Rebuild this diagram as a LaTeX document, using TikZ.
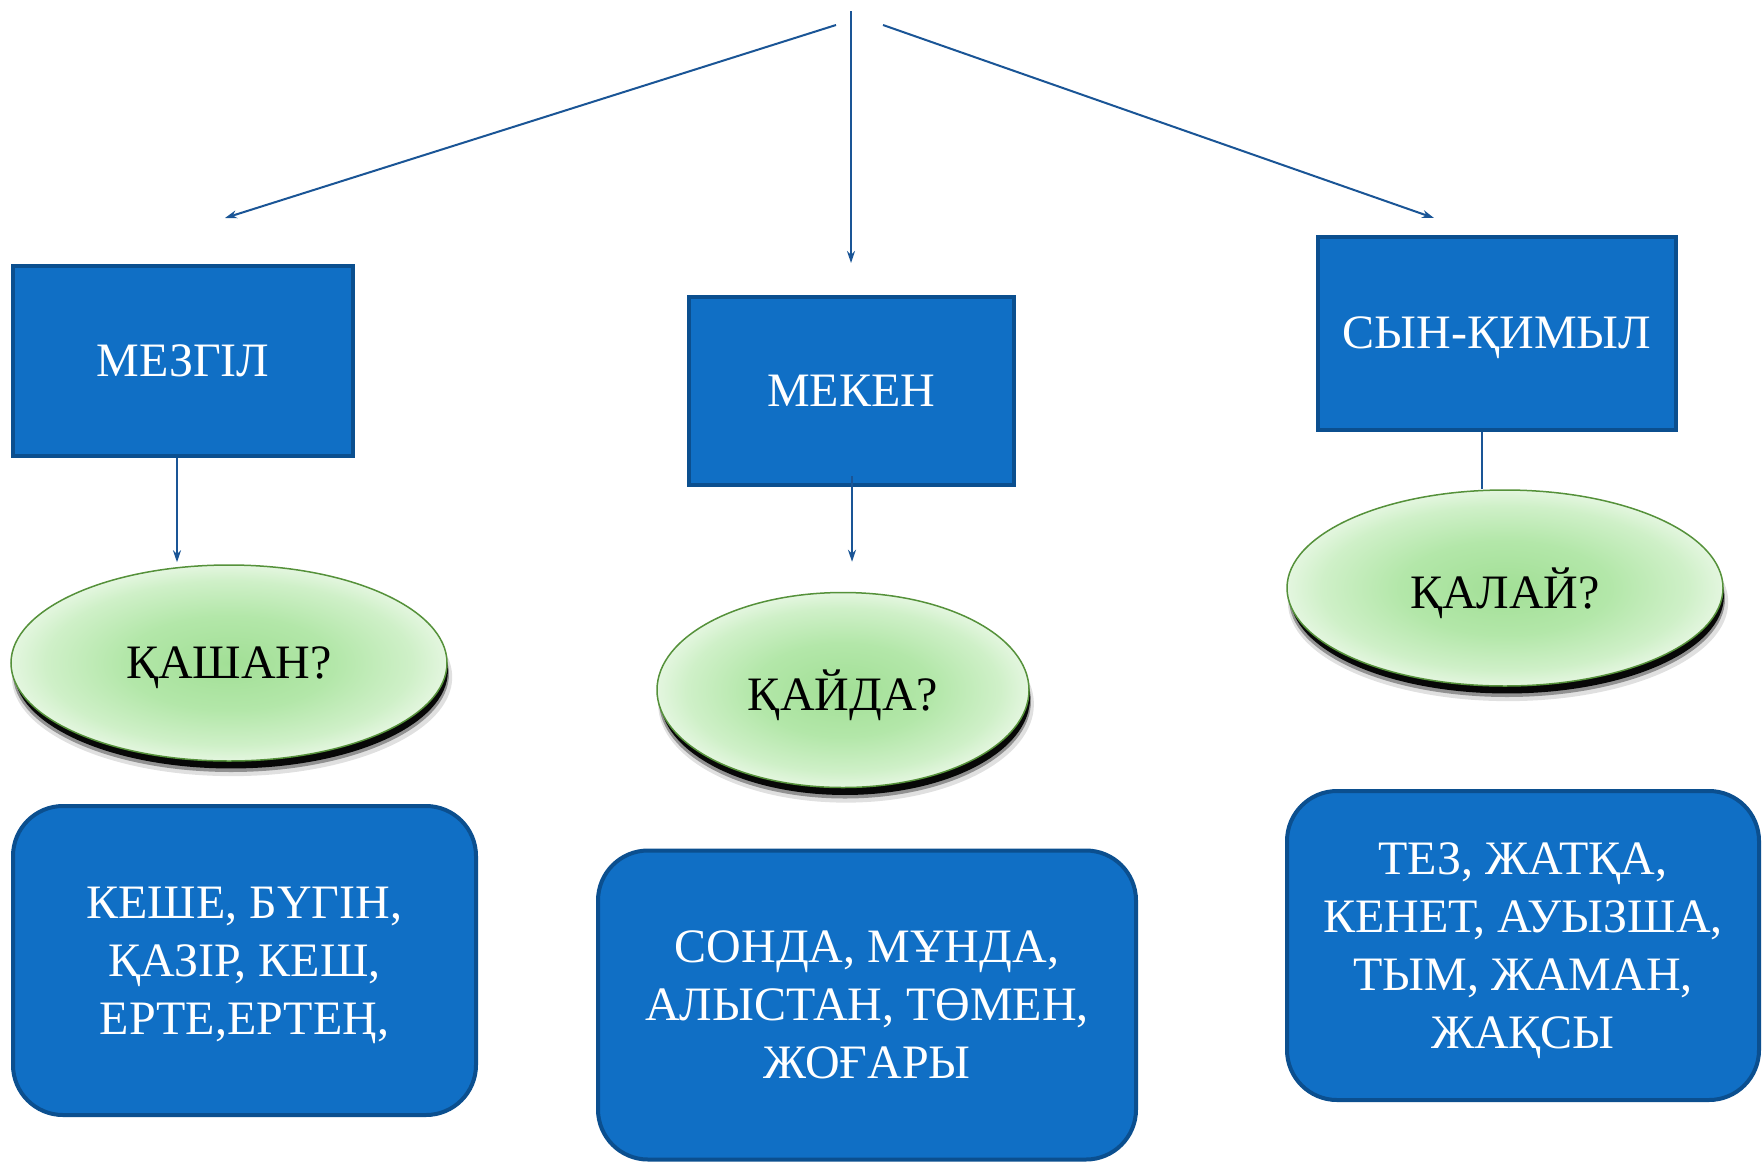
\documentclass[tikz,border=0pt]{standalone}
\usepackage{fontspec}
\setmainfont{Liberation Serif}
\usetikzlibrary{shapes.geometric,arrows.meta,shadows}
\definecolor{boxfill}{HTML}{106FC5}
\definecolor{boxline}{HTML}{0B4F8F}
\definecolor{arr}{HTML}{1A5596}
\definecolor{ellA}{HTML}{A2DF96}
\definecolor{ellB}{HTML}{B3E7A9}
\definecolor{ellC}{HTML}{CFF0C8}
\definecolor{ellD}{HTML}{EEF9EB}
\definecolor{ellline}{HTML}{55913A}
\pgfdeclareradialshading{ellshade}{\pgfpoint{0bp}{0bp}}{%
  color(0bp)=(ellA); color(12bp)=(ellB); color(21bp)=(ellC); color(27bp)=(ellD); color(50bp)=(ellD)}
\begin{document}
\begin{tikzpicture}[x=1pt,y=-1pt,
  headbox/.style={rectangle, fill=boxfill, draw=boxline, line width=4pt, text=white,
    font=\fontsize{48}{58}\selectfont, inner sep=0pt, text depth=0pt},
  listbox/.style={rectangle, rounded corners=50pt, fill=boxfill, draw=boxline, line width=4pt,
    text=white, font=\fontsize{48}{58}\selectfont, align=center, inner sep=0pt, text depth=0pt},
  qell/.style={ellipse, draw=ellline, line width=1.5pt, shading=ellshade,
    text=black, font=\fontsize{48}{58}\selectfont, inner sep=0pt, text depth=0pt,
    general shadow={fill=black, opacity=0.12, shadow xshift=3pt, shadow yshift=-14pt, shadow scale=1.01},
    general shadow={fill=black, opacity=0.35, shadow xshift=2pt, shadow yshift=-11pt},
    general shadow={fill=black, opacity=0.95, shadow xshift=2pt, shadow yshift=-8pt, shadow scale=0.995}},
  conn/.style={draw=arr, line width=2pt},
  tip/.style={-{Stealth[length=12pt,width=8pt]}}
]
\fill[white] (0,0) rectangle (1763,1165);
\useasboundingbox (0,0) rectangle (1763,1165);

% free ends of the top connectors
\coordinate (topv) at (851,11);
\coordinate (tl0) at (836,25);
\coordinate (tr0) at (883,25);
\coordinate (tlend) at (225,218);
\coordinate (trend) at (1434,218);
\coordinate (tvend) at (851,263);

% head boxes
\node[headbox, minimum width=340pt, minimum height=190pt] (mezgil) at (183,361) {МЕЗГІЛ};
\node[headbox, minimum width=325pt, minimum height=188pt] (meken) at (851,391) {МЕКЕН};
\node[headbox, minimum width=358pt, minimum height=193pt] (syn) at (1497,333) {СЫН-ҚИМЫЛ};

% question ellipses
\node[qell, minimum width=436pt, minimum height=196pt] (qashan) at (229,663) {ҚАШАН?};
\node[qell, minimum width=372pt, minimum height=195pt] (qayda) at (843,690) {ҚАЙДА?};
\node[qell, minimum width=436pt, minimum height=196pt] (qalay) at (1505,588) {ҚАЛАЙ?};

% answer boxes
\node[listbox, minimum width=463pt, minimum height=309pt] (l1) at (244.5,960.5)
  {КЕШЕ, БҮГІН,\\ҚАЗІР, КЕШ,\\ЕРТЕ,ЕРТЕҢ,};
\node[listbox, minimum width=538pt, minimum height=309pt] (l2) at (867,1005)
  {СОНДА, МҰНДА,\\АЛЫСТАН, ТӨМЕН,\\ЖОҒАРЫ};
\node[listbox, minimum width=472pt, minimum height=309pt] (l3) at (1523,945.5)
  {ТЕЗ, ЖАТҚА,\\КЕНЕТ, АУЫЗША,\\ТЫМ, ЖАМАН,\\ЖАҚСЫ};

% connectors
\draw[conn,tip] (tl0) -- (tlend);
\draw[conn,tip] (tr0) -- (trend);
\draw[conn,tip] (topv) -- (tvend);
\draw[conn,tip] (177,0 |- mezgil.south) -- ([yshift=2pt]177,0 |- qashan.north);
\draw[conn,tip] ([yshift=11pt]852,0 |- meken.south) -- ([yshift=30pt]852,0 |- qayda.north);
\draw[conn] (1482,0 |- syn.south) -- (1482,0 |- qalay.north);
\end{tikzpicture}
\end{document}
